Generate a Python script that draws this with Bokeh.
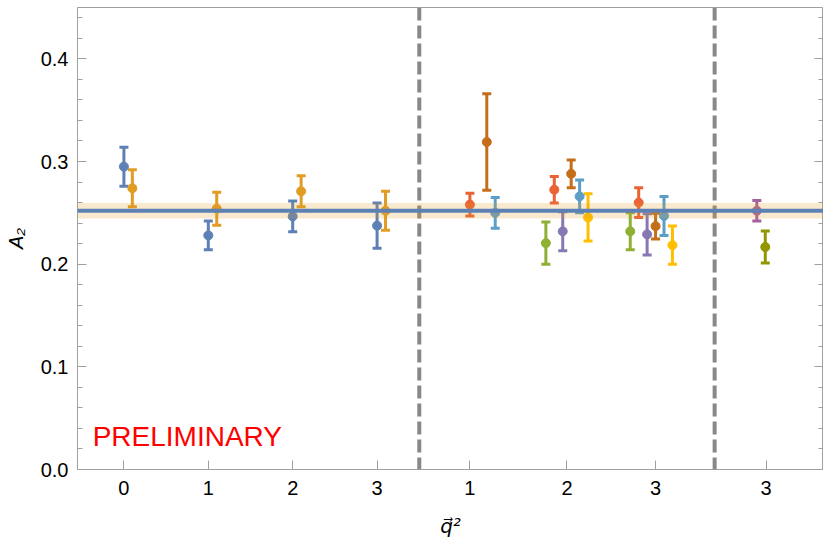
from bokeh.plotting import figure
from bokeh.models import (ColumnDataSource, FixedTicker, LinearAxis, Span,
                          BoxAnnotation, Label, Range1d)
from bokeh.embed import file_html
from bokeh.resources import INLINE

# Mathematica-style default palette
C_BLUE, C_ORANGE, C_GREEN, C_RED = "#5E81B5", "#E19C24", "#8FB032", "#EB6235"
C_PURPLE, C_BROWN, C_LBLUE, C_YELLOW = "#8778B3", "#C56E1A", "#5D9EC7", "#FFBF00"
C_MAGENTA, C_OLIVE = "#A5609D", "#929600"

# x positions (with small offsets per series inside each q^2 slot)
x_pos = [0.0, 0.1, 1.0, 1.1, 2.0, 2.1, 3.0, 3.1,
         4.1, 4.3, 4.4,
         5.0, 5.1, 5.2, 5.3, 5.4, 5.5,
         6.0, 6.1, 6.2, 6.3, 6.4, 6.5,
         7.5, 7.6]
a2_val = [0.295, 0.274, 0.228, 0.254, 0.2465, 0.271, 0.2375, 0.252,
          0.258, 0.319, 0.250,
          0.2205, 0.2725, 0.232, 0.288, 0.266, 0.2455,
          0.232, 0.260, 0.229, 0.237, 0.247, 0.2185,
          0.252, 0.2167]
a2_err = [0.019, 0.018, 0.014, 0.016, 0.015, 0.015, 0.022, 0.019,
          0.011, 0.047, 0.015,
          0.0205, 0.013, 0.019, 0.0135, 0.016, 0.023,
          0.018, 0.0145, 0.020, 0.0125, 0.019, 0.0187,
          0.010, 0.0155]
colors = [C_BLUE, C_ORANGE, C_BLUE, C_ORANGE, C_BLUE, C_ORANGE, C_BLUE, C_ORANGE,
          C_RED, C_BROWN, C_LBLUE,
          C_GREEN, C_RED, C_PURPLE, C_BROWN, C_LBLUE, C_YELLOW,
          C_GREEN, C_RED, C_PURPLE, C_BROWN, C_LBLUE, C_YELLOW,
          C_MAGENTA, C_OLIVE]

# tick positions and their q^2 labels
tick_pos = [0, 1, 2, 3, 4.1, 5.25, 6.3, 7.61]
tick_lab = ["0", "1", "2", "3", "1", "2", "3", "3"]
y_ticks = [0, 0.1, 0.2, 0.3, 0.4]
y_tick_lab = ["0.0", "0.1", "0.2", "0.3", "0.4"]

# group separators
sep_pos = [3.5, 7.0]

# global fit value and uncertainty
fit_val = 0.252
fit_err = 0.0076

lo = [v - e for v, e in zip(a2_val, a2_err)]
hi = [v + e for v, e in zip(a2_val, a2_err)]
src = ColumnDataSource(dict(x=x_pos, y=a2_val, lo=lo, hi=hi, c=colors))

FONT = "Liberation Sans"
AX = "#a0a0a0"
minor_y = [i * 0.02 for i in range(23)]

p = figure(width=823, height=541, output_backend="svg", toolbar_location=None,
           x_range=Range1d(-0.55, 8.29), y_range=Range1d(0, 0.45),
           x_axis_location=None, y_axis_location=None,
           min_border_left=77, min_border_right=0, min_border_top=7,
           min_border_bottom=72)
p.grid.visible = False
p.outline_line_color = AX
p.background_fill_color = "white"

left = LinearAxis(axis_label="A₂")
left.ticker = FixedTicker(ticks=y_ticks, minor_ticks=minor_y)
left.major_label_overrides = dict(zip(y_ticks, y_tick_lab))
bottom = LinearAxis(axis_label="q⃗²")
bottom.ticker = FixedTicker(ticks=tick_pos, minor_ticks=[])
bottom.major_label_overrides = dict(zip(tick_pos, tick_lab))
right = LinearAxis()
right.ticker = FixedTicker(ticks=y_ticks, minor_ticks=minor_y)
right.major_label_overrides = {t: "" for t in y_ticks}
right.major_label_standoff = 0

for ax in (left, bottom, right):
    ax.axis_line_color = AX
    ax.major_tick_line_color = AX
    ax.minor_tick_line_color = AX
    ax.major_tick_in = 9
    ax.major_tick_out = 0
    ax.minor_tick_in = 5
    ax.minor_tick_out = 0
    ax.major_label_text_font = FONT
    ax.major_label_text_color = "black"
    ax.major_label_text_font_size = "20px"
    ax.axis_label_text_font = FONT
    ax.axis_label_text_font_style = "italic"
    ax.axis_label_text_color = "black"
    ax.axis_label_text_font_size = "20px"
bottom.axis_label_text_font = "DejaVu Sans"
bottom.axis_label_text_font_size = "20px"
right.axis_line_color = None
left.major_label_standoff = 9
left.axis_label_standoff = 11
bottom.major_label_standoff = 11
bottom.axis_label_standoff = 16

p.add_layout(left, "left")
p.add_layout(bottom, "below")
p.add_layout(right, "right")

# dashed group separators
for xs in sep_pos:
    p.add_layout(Span(location=xs, dimension="height", line_color="#888888",
                      line_width=4, line_dash="13 5"))

# error bars with caps, then points
p.segment(x0="x", y0="lo", x1="x", y1="hi", source=src, line_color="c", line_width=3)
p.scatter(x="x", y="hi", source=src, marker="dash", size=9, line_color="c", line_width=3)
p.scatter(x="x", y="lo", source=src, marker="dash", size=9, line_color="c", line_width=3)
p.scatter(x="x", y="y", source=src, marker="circle", size=9, fill_color="c", line_color="c")

# fit band and central value
p.add_layout(BoxAnnotation(bottom=fit_val - fit_err, top=fit_val + fit_err,
                           fill_color=C_ORANGE, fill_alpha=0.22, line_color=None))
p.add_layout(Span(location=fit_val, dimension="width", line_color=C_BLUE, line_width=4))

p.add_layout(Label(x=-0.37, y=0.017, text="PRELIMINARY", text_color="red",
                   text_font=FONT, text_font_size="28px"))

open("out.html", "w").write(file_html(p, INLINE))
